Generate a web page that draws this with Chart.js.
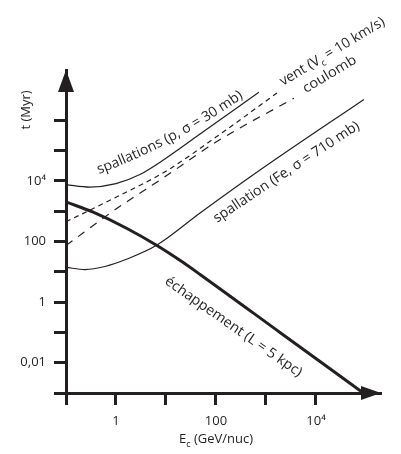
<!DOCTYPE html>
<html>
<head>
<meta charset="utf-8">
<script src="https://cdn.jsdelivr.net/npm/chart.js@4.4.1/dist/chart.umd.min.js"></script>
<style>
  html, body { margin: 0; padding: 0; background: #fff; }
  #wrap { width: 401px; height: 454px; }
</style>
</head>
<body>
<div id="wrap"><canvas id="chart" width="401" height="454"></canvas></div>
<script>
// energies in GeV/nuc, times in Myr
const escE = [0.1, 0.35, 1.66, 6.6, 19, 48, 2000, 83000];
const escT = [2040, 927, 270, 74, 24, 8.2, 0.094, 0.00108];

const spPE = [0.1, 0.3, 1, 3, 9.5, 48, 720];
const spPT = [7600, 6300, 8150, 16300, 53200, 353000, 8.5e6];

const spFeE = [0.1, 0.24, 0.6, 1.66, 6.6, 48, 760, 91000];
const spFeT = [14.1, 11.9, 15, 26.4, 76.6, 873, 22900, 4.93e6];

const ventE = [0.1, 1, 10, 100, 1660];
const ventT = [450, 2900, 21000, 280000, 8e6];

const coulE = [0.1, 1, 10, 100, 3630];
const coulT = [74, 1180, 14500, 192000, 5.4e6];

const xTicks = [0.1, 1, 10, 100, 1000, 1e4];
const xTickLabels = ['', '1', '', '100', '', '10⁴'];
const yTicks = [1e-3, 1e-2, 0.1, 1, 10, 100, 1000, 1e4, 1e5, 1e6];
const yTickLabels = ['', '0,01', '', '1', '', '100', '', '10⁴', '', ''];

const ink = '#231f20';
const FONT = '"Open Sans", sans-serif';

// curve captions: start point (E, t) of the baseline, angle in degrees, length in px
const captions = [
  { parts: [['spallations (p, σ = 30 mb)']], E: 0.457, t: 16900, a0: -21, a1: -35, len: 164 },
  { parts: [['vent (V'], ['c', true], [' = 10 km/s)']], E: 2190, t: 1.36e7, a0: -31, a1: -31, len: 120 },
  { parts: [['coulomb']], E: 6310, t: 7.9e6, a0: -31, a1: -31, len: 60 },
  { parts: [['spallation (Fe, σ = 710 mb)']], E: 105, t: 407, a0: -34, a1: -33, len: 172 },
  { parts: [['échappement (L = 5 kpc)']], E: 9.1, t: 4.27, a0: 35, a1: 35, len: 164 }
];

function pts(xs, ys) {
  return xs.map((x, i) => ({ x: x, y: ys[i] }));
}

function drawCaption(ctx, cap, x, y) {
  const size = 14;
  const chars = [];
  cap.parts.forEach(([s, sub]) => { for (const ch of s) chars.push({ ch: ch, sub: !!sub }); });
  let total = 0;
  chars.forEach(c => {
    ctx.font = (c.sub ? 9 : size) + 'px ' + FONT;
    c.w = ctx.measureText(c.ch).width;
    total += c.w;
  });
  const sx = cap.len / total;
  let acc = 0;
  chars.forEach(c => {
    const a = (cap.a0 + (cap.a1 - cap.a0) * (acc + c.w / 2) / total) * Math.PI / 180;
    ctx.save();
    ctx.translate(x, y);
    ctx.rotate(a);
    ctx.scale(sx, 1);
    ctx.font = (c.sub ? 9 : size) + 'px ' + FONT;
    ctx.fillText(c.ch, 0, c.sub ? 4 : 0);
    ctx.restore();
    x += c.w * sx * Math.cos(a);
    y += c.w * sx * Math.sin(a);
    acc += c.w;
  });
}

const decor = {
  id: 'decor',
  afterDraw(chart) {
    const ctx = chart.ctx;
    const { left, right, top, bottom } = chart.chartArea;
    const xs = chart.scales.x, ys = chart.scales.y;
    ctx.save();
    ctx.fillStyle = ink;
    // arrow heads
    ctx.beginPath();
    ctx.moveTo(left, top);
    ctx.lineTo(left - 8, top + 22);
    ctx.lineTo(left + 8, top + 22);
    ctx.closePath();
    ctx.fill();
    ctx.beginPath();
    ctx.moveTo(right, bottom);
    ctx.lineTo(right - 20, bottom - 7);
    ctx.lineTo(right - 20, bottom + 7);
    ctx.closePath();
    ctx.fill();

    // axis titles
    ctx.textBaseline = 'alphabetic';
    ctx.font = '13px ' + FONT;
    ctx.save();
    ctx.translate(30, 110);
    ctx.rotate(-Math.PI / 2);
    ctx.textAlign = 'center';
    ctx.fillText('t (Myr)', 0, 0);
    ctx.restore();

    ctx.textAlign = 'left';
    const rest = ' (GeV/nuc)';
    ctx.font = '13px ' + FONT;
    const wE = ctx.measureText('E').width, wR = ctx.measureText(rest).width;
    ctx.font = '9px ' + FONT;
    const wc = ctx.measureText('c').width;
    const tx = xs.getPixelForValue(100) - (wE + wc + wR) / 2;
    const ty = 443;
    ctx.font = '13px ' + FONT;
    ctx.fillText('E', tx, ty);
    ctx.font = '9px ' + FONT;
    ctx.fillText('c', tx + wE, ty + 4);
    ctx.font = '13px ' + FONT;
    ctx.fillText(rest, tx + wE + wc, ty);

    // curve captions
    captions.forEach(cap => {
      drawCaption(ctx, cap, xs.getPixelForValue(cap.E), ys.getPixelForValue(cap.t));
    });
    ctx.restore();
  }
};

const thin = { borderColor: ink, borderWidth: 1.2, pointRadius: 0, fill: false, cubicInterpolationMode: 'monotone' };

new Chart(document.getElementById('chart').getContext('2d'), {
  type: 'line',
  data: {
    datasets: [
      Object.assign({}, thin, { label: 'échappement', data: pts(escE, escT), borderWidth: 3 }),
      Object.assign({}, thin, { label: 'spallations p', data: pts(spPE, spPT) }),
      Object.assign({}, thin, { label: 'spallation Fe', data: pts(spFeE, spFeT) }),
      Object.assign({}, thin, { label: 'vent', data: pts(ventE, ventT), borderDash: [5, 4] }),
      Object.assign({}, thin, { label: 'coulomb', data: pts(coulE, coulT), borderDash: [8, 7] })
    ]
  },
  options: {
    responsive: false,
    animation: false,
    layout: { padding: { top: 70, right: 20, left: 0, bottom: 0 } },
    plugins: { legend: { display: false }, tooltip: { enabled: false } },
    scales: {
      x: {
        type: 'logarithmic',
        min: 0.1,
        max: 2e5,
        afterBuildTicks: s => { s.ticks = xTicks.map(v => ({ value: v })); },
        afterFit: s => { s.height = 61; },
        ticks: {
          autoSkip: false, maxRotation: 0, padding: 8, color: ink,
          font: { family: FONT, size: 13 },
          callback: (v, i) => xTickLabels[i]
        },
        grid: { drawOnChartArea: false, tickLength: 12, tickWidth: 3, tickColor: ink },
        border: { width: 3, color: ink }
      },
      y: {
        type: 'logarithmic',
        min: 1e-3,
        max: 4.6e7,
        afterBuildTicks: s => { s.ticks = yTicks.map(v => ({ value: v })); },
        afterFit: s => { s.width = 66; },
        ticks: {
          autoSkip: false, padding: 8, color: ink,
          font: { family: FONT, size: 13 },
          callback: (v, i) => yTickLabels[i]
        },
        grid: { drawOnChartArea: false, tickLength: 12, tickWidth: 3, tickColor: ink },
        border: { width: 3, color: ink }
      }
    }
  },
  plugins: [decor]
});
</script>
</body>
</html>
